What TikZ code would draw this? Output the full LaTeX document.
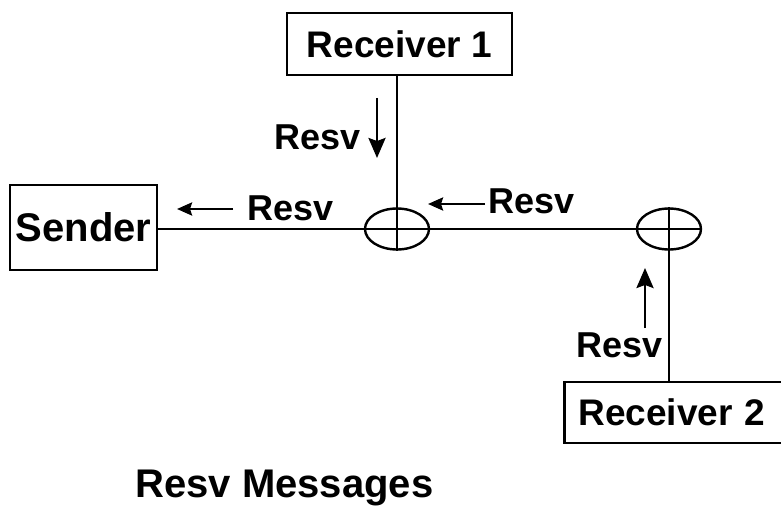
\documentclass[tikz,border=0pt]{standalone}
\usepackage{fontspec}
\setsansfont{Liberation Sans}
\usetikzlibrary{shapes.geometric,arrows.meta}

\begin{document}
\begin{tikzpicture}[x=1pt,y=-1pt,
  hostbox/.style={draw,line width=2.6pt,inner sep=0pt,font=\sffamily\bfseries\fontsize{37}{44}\selectfont},
  merge/.style={draw,ellipse,line width=2.4pt,inner sep=0pt,minimum width=64pt,minimum height=41pt},
  wire/.style={line width=2.4pt},
  msg/.style={inner sep=0pt,font=\sffamily\bfseries\fontsize{36}{42}\selectfont},
  flowv/.style={line width=2.6pt,-{Stealth[length=20pt,width=17pt,inset=3pt]}},
  flowh/.style={line width=2.6pt,-{Stealth[length=15pt,width=13pt,inset=2pt]}}]
\path[use as bounding box] (0,0) rectangle (781,508);
\clip (0,0) rectangle (781,508);

% hosts
\node[hostbox,minimum width=147pt,minimum height=85pt,font=\sffamily\bfseries\fontsize{40}{48}\selectfont] (sender) at (83.5,227.5) {Sender};
\node[hostbox,minimum width=225pt,minimum height=62pt] (recv1) at (399.5,44) {Receiver 1};
% runs off the right edge
\node[hostbox,anchor=west,text width=200pt,align=left,inner xsep=14pt,minimum height=61pt] (recv2) at (563,412.5) {Receiver 2};

% merge points
\node[merge] (mergeA) at (397,229) {};
\node[merge] (mergeB) at (669,229) {};

% links
\draw[wire] (mergeA |- recv1.south) -- (mergeA.south);
\draw[wire] (sender.east |- mergeA) -- (mergeB.east);
\draw[wire] (mergeB.north) -- (mergeB.north |- recv2.north);

% Resv flow arrows
\coordinate (downS) at (377,98);
\coordinate (downT) at (377,158);
\coordinate (leftS) at (233,209);
\coordinate (leftT) at (177,209);
\coordinate (midS) at (485,204);
\coordinate (midT) at (428,204);
\coordinate (upS) at (645,328);
\coordinate (upT) at (645,268);
\draw[flowv] (downS) -- (downT);
\draw[flowh] (leftS) -- (leftT);
\draw[flowh] (midS) -- (midT);
\draw[flowv] (upS) -- (upT);

\node[msg,anchor=east] (lblDown) at (361,137) {Resv};
\node[msg,anchor=west] (lblLeft) at (247,208.5) {Resv};
\node[msg,anchor=west] (lblMid) at (488,201.5) {Resv};
\node[msg] (lblUp) at (619.5,345.5) {Resv};

\node[inner sep=0pt,anchor=base,font=\sffamily\bfseries\fontsize{40}{48}\selectfont] (title) at (284.5,497) {Resv Messages};
\end{tikzpicture}
\end{document}
